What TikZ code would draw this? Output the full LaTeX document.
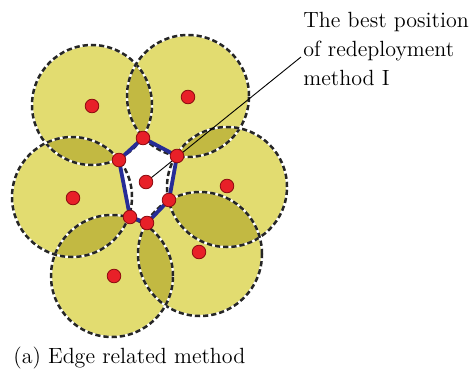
\documentclass[tikz,border=0pt]{standalone}
\definecolor{ylight}{RGB}{226,220,112}
\definecolor{ydark}{RGB}{194,185,66}
\definecolor{reddot}{RGB}{232,32,40}
\definecolor{reddark}{RGB}{140,10,15}
\definecolor{bluepoly}{RGB}{38,44,150}
\tikzset{
  circoutline/.style={draw=black!85, line width=1.25pt, dash pattern=on 2.6pt off 1.5pt},
  circwhite/.style={draw=white, line width=1.1pt},
  reddotnode/.style={circle, fill=reddot, draw=reddark, line width=0.4pt, minimum size=6.8pt, inner sep=0pt},
  polyline/.style={draw=bluepoly, line width=1.9pt, line join=round},
  lbltext/.style={font=\fontsize{11}{14.5}\selectfont, inner sep=0pt, align=left}
}
\begin{document}
\begin{tikzpicture}[x=0.5pt,y=-0.5pt]
\useasboundingbox (0,0) rectangle (470,374);
% circle centres
\coordinate (c1) at (92,105);
\coordinate (c2) at (188,96);
\coordinate (c3) at (227,187);
\coordinate (c4) at (200,254);
\coordinate (c5) at (112,276);
\coordinate (c6) at (72,197);
\def\ra{30pt}\def\rb{30.5pt}\def\rc{30pt}\def\rd{31pt}\def\re{30.5pt}\def\rf{30pt}
% light fills
\fill[ylight] (c1) circle[radius=\ra];
\fill[ylight] (c2) circle[radius=\rb];
\fill[ylight] (c3) circle[radius=\rc];
\fill[ylight] (c4) circle[radius=\rd];
\fill[ylight] (c5) circle[radius=\re];
\fill[ylight] (c6) circle[radius=\rf];
% overlaps
\begin{scope}\clip (c1) circle[radius=\ra]; \fill[ydark] (c2) circle[radius=\rb];\end{scope}
\begin{scope}\clip (c2) circle[radius=\rb]; \fill[ydark] (c3) circle[radius=\rc];\end{scope}
\begin{scope}\clip (c3) circle[radius=\rc]; \fill[ydark] (c4) circle[radius=\rd];\end{scope}
\begin{scope}\clip (c4) circle[radius=\rd]; \fill[ydark] (c5) circle[radius=\re];\end{scope}
\begin{scope}\clip (c5) circle[radius=\re]; \fill[ydark] (c6) circle[radius=\rf];\end{scope}
\begin{scope}\clip (c6) circle[radius=\rf]; \fill[ydark] (c1) circle[radius=\ra];\end{scope}
% polygon vertices
\coordinate (v1) at (143,138);
\coordinate (v2) at (177,156);
\coordinate (v3) at (169,200);
\coordinate (v4) at (147,223);
\coordinate (v5) at (130,217);
\coordinate (v6) at (119,160);
\coordinate (pc) at (146,182);
\fill[white] (v1) -- (v2) -- (v3) -- (v4) -- (v5) -- (v6) -- cycle;
% outlines
\foreach \c/\r in {c1/\ra,c2/\rb,c3/\rc,c4/\rd,c5/\re,c6/\rf}{
  \draw[circwhite] (\c) circle[radius=\r];
  \draw[circoutline] (\c) circle[radius=\r];
}
\draw[polyline] (v1) -- (v2) -- (v3) -- (v4) -- (v5) -- (v6) -- cycle;
% label and leader
\node[lbltext, anchor=north west] (lbl) at (303,12) {The best position\\of redeployment\\method I};
\coordinate (lend) at (301,57);
\draw[line width=0.45pt] (pc) -- (lend);
% dots
\node[reddotnode] (d1) at (92,106) {};
\node[reddotnode] (d2) at (188,97) {};
\node[reddotnode] (d3) at (227,186) {};
\node[reddotnode] (d4) at (199,252) {};
\node[reddotnode] (d5) at (114,276) {};
\node[reddotnode] (d6) at (73,198) {};
\node[reddotnode] (dp) at (pc) {};
\node[reddotnode] (dv1) at (v1) {};
\node[reddotnode] (dv2) at (v2) {};
\node[reddotnode] (dv3) at (v3) {};
\node[reddotnode] (dv4) at (v4) {};
\node[reddotnode] (dv5) at (v5) {};
\node[reddotnode] (dv6) at (v6) {};
% caption
\node[lbltext, anchor=base west] (cap) at (13,363) {(a) Edge related method};
\end{tikzpicture}
\end{document}
